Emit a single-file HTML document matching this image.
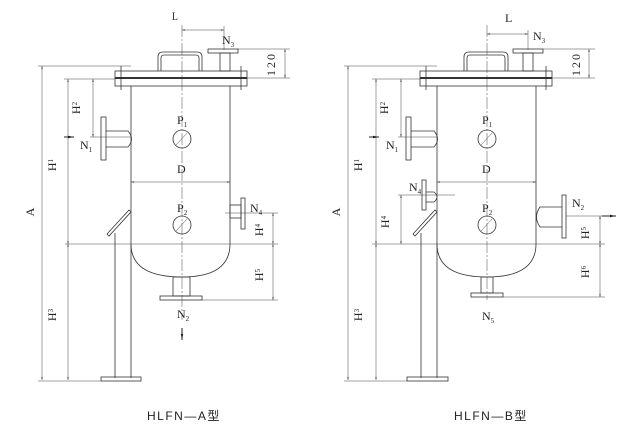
<!DOCTYPE html>
<html><head><meta charset="utf-8"><style>
html,body{margin:0;padding:0;background:#fff;}
svg{display:block}
text{font-family:"Liberation Serif","Noto Serif CJK SC",serif;fill:#222;}
.c{font-family:"Liberation Sans","Noto Sans CJK SC",sans-serif;}
</style></head><body>
<svg width="643" height="442" viewBox="0 0 643 442" xmlns="http://www.w3.org/2000/svg">
<defs>
<marker id="a" viewBox="0 0 10 10" refX="10" refY="5" markerWidth="6" markerHeight="6" orient="auto-start-reverse"><path d="M0,3L10,5L0,7z" fill="#222"/></marker>
</defs>
<g fill="none" stroke="#333" stroke-width="0.8">
<!-- ===== LEFT ===== -->
<!-- flange -->
<rect x="115" y="71" width="132" height="15" fill="#fff"/>
<line x1="115" y1="78" x2="247" y2="78" stroke-width="2"/>
<line x1="121" y1="66" x2="121" y2="90"/><line x1="241" y1="66" x2="241" y2="90"/>
<!-- handle -->
<path d="M158,71 V57 Q158,52 163,52 H197 Q202,52 202,57 V71"/>
<path d="M161,71 V58 Q161,55 164,55 H196 Q199,55 199,58 V71"/>
<!-- N3 -->
<rect x="220" y="53" width="10" height="18"/><rect x="208" y="49" width="30" height="4"/>
<!-- body -->
<line x1="131" y1="86" x2="131" y2="378"/><line x1="230" y1="86" x2="230" y2="244"/>
<path d="M131,244 Q131,277 182,277 Q230,277 230,244"/>
<line x1="115" y1="233" x2="115" y2="378"/>
<rect x="101" y="377" width="40" height="4"/>
<!-- sight glass -->
<path d="M107,234 L129,210 L131,212 L109,236 Z"/>
<!-- N1 -->
<path d="M106,131 H128 Q135,139 128,147 H106"/><rect x="101" y="117" width="5" height="43"/>
<!-- N2 bottom -->
<rect x="173" y="277" width="17" height="19"/><rect x="160" y="296" width="42" height="4"/>
<!-- N4 -->
<rect x="230" y="205" width="11" height="13"/><rect x="241" y="198" width="4" height="31"/>
<!-- gauges -->
<circle cx="182" cy="139" r="9"/><circle cx="182" cy="225" r="9"/>
</g>
<g stroke="#444" stroke-width="0.5" fill="none">
<line x1="182" y1="25" x2="182" y2="320" stroke-dasharray="12 2 2 2"/>
<line x1="182" y1="30" x2="224" y2="30" marker-start="url(#a)" marker-end="url(#a)"/>
<line x1="224" y1="26" x2="224" y2="50"/>
<line x1="238" y1="49" x2="290" y2="49"/><line x1="247" y1="78" x2="290" y2="78"/>
<line x1="285" y1="49" x2="285" y2="78" marker-start="url(#a)" marker-end="url(#a)"/>
<line x1="38" y1="66" x2="131" y2="66"/>
<line x1="42" y1="66" x2="42" y2="380" marker-start="url(#a)" marker-end="url(#a)"/>
<line x1="64" y1="79" x2="115" y2="79"/>
<line x1="68" y1="79" x2="68" y2="244" marker-start="url(#a)" marker-end="url(#a)"/>
<line x1="68" y1="244" x2="68" y2="380" marker-start="url(#a)" marker-end="url(#a)"/>
<line x1="38" y1="381" x2="101" y2="381"/>
<line x1="93" y1="79" x2="93" y2="137" marker-start="url(#a)" marker-end="url(#a)"/>
<line x1="90" y1="137" x2="131" y2="137"/>
<line x1="65" y1="244" x2="278" y2="244"/>
<line x1="131" y1="182" x2="230" y2="182" marker-start="url(#a)" marker-end="url(#a)"/>
<line x1="225" y1="213" x2="278" y2="213"/>
<line x1="273" y1="213" x2="273" y2="244" marker-start="url(#a)" marker-end="url(#a)"/>
<line x1="202" y1="300" x2="278" y2="300"/>
<line x1="273" y1="244" x2="273" y2="300" marker-start="url(#a)" marker-end="url(#a)"/>
<line x1="176" y1="145" x2="187" y2="133"/><line x1="176" y1="231" x2="187" y2="219"/>
</g>
<g stroke="#222" stroke-width="1" fill="#222">
<line x1="64" y1="137" x2="74" y2="137" marker-end="url(#a)"/>
<line x1="182" y1="328" x2="182" y2="340" marker-end="url(#a)"/>
</g>
<!-- ===== RIGHT ===== -->
<g fill="none" stroke="#333" stroke-width="0.8">
<rect x="420" y="71" width="132" height="15" fill="#fff"/>
<line x1="420" y1="78" x2="552" y2="78" stroke-width="2"/>
<line x1="426" y1="66" x2="426" y2="90"/><line x1="546" y1="66" x2="546" y2="90"/>
<path d="M464,71 V57 Q464,52 469,52 H503 Q508,52 508,57 V71"/>
<path d="M467,71 V58 Q467,55 470,55 H502 Q505,55 505,58 V71"/>
<rect x="523" y="53" width="10" height="18"/><rect x="513" y="49" width="30" height="4"/>
<line x1="437" y1="86" x2="437" y2="378"/><line x1="536" y1="86" x2="536" y2="244"/>
<path d="M437,244 Q437,277 487,277 Q536,277 536,244"/>
<line x1="421" y1="233" x2="421" y2="378"/>
<rect x="407" y="377" width="41" height="4"/>
<path d="M413,234 L435,210 L437,212 L415,236 Z"/>
<path d="M411,131 H434 Q441,139 434,147 H411"/><rect x="406" y="117" width="5" height="43"/>
<rect x="481" y="277" width="12" height="16"/><rect x="471" y="293" width="32" height="4"/>
<path d="M426,192 H434 Q440,197 434,202 H426"/><rect x="422" y="180" width="4" height="30"/>
<path d="M562,207 H540 Q533,217 540,227 H562"/><rect x="562" y="195" width="4" height="43"/>
<circle cx="487" cy="139" r="9"/><circle cx="487" cy="225" r="9"/>
</g>
<g stroke="#444" stroke-width="0.5" fill="none">
<line x1="487" y1="25" x2="487" y2="300" stroke-dasharray="12 2 2 2"/>
<line x1="487" y1="34" x2="528" y2="34" marker-start="url(#a)" marker-end="url(#a)"/>
<line x1="528" y1="30" x2="528" y2="50"/>
<line x1="543" y1="49" x2="595" y2="49"/><line x1="552" y1="78" x2="595" y2="78"/>
<line x1="589" y1="49" x2="589" y2="78" marker-start="url(#a)" marker-end="url(#a)"/>
<line x1="344" y1="66" x2="437" y2="66"/>
<line x1="348" y1="66" x2="348" y2="380" marker-start="url(#a)" marker-end="url(#a)"/>
<line x1="372" y1="79" x2="420" y2="79"/>
<line x1="376" y1="79" x2="376" y2="244" marker-start="url(#a)" marker-end="url(#a)"/>
<line x1="376" y1="244" x2="376" y2="380" marker-start="url(#a)" marker-end="url(#a)"/>
<line x1="344" y1="381" x2="407" y2="381"/>
<line x1="401" y1="79" x2="401" y2="137" marker-start="url(#a)" marker-end="url(#a)"/>
<line x1="398" y1="137" x2="437" y2="137"/>
<line x1="372" y1="244" x2="605" y2="244"/>
<line x1="437" y1="182" x2="536" y2="182" marker-start="url(#a)" marker-end="url(#a)"/>
<line x1="398" y1="195" x2="455" y2="195"/>
<line x1="401" y1="195" x2="401" y2="244" marker-start="url(#a)" marker-end="url(#a)"/>
<line x1="566" y1="216" x2="605" y2="216"/>
<line x1="600" y1="216" x2="600" y2="244" marker-start="url(#a)" marker-end="url(#a)"/>
<line x1="503" y1="297" x2="605" y2="297"/>
<line x1="600" y1="244" x2="600" y2="297" marker-start="url(#a)" marker-end="url(#a)"/>
<line x1="481" y1="145" x2="492" y2="133"/><line x1="481" y1="231" x2="492" y2="219"/>
</g>
<g stroke="#222" stroke-width="1" fill="#222">
<line x1="369" y1="137" x2="379" y2="137" marker-end="url(#a)"/>
<line x1="602" y1="216" x2="616" y2="216" marker-end="url(#a)"/>
</g>
<!-- ===== TEXT ===== -->
<g font-size="12">
<text x="172" y="20" transform="translate(172,0) scale(0.8,1) translate(-172,0)">L</text>
<text x="222" y="44">N<tspan font-size="7" dy="3">3</tspan></text>
<text x="275" y="64" transform="rotate(-90 275 64)" text-anchor="middle" letter-spacing="2">120</text>
<text x="34" y="212" transform="rotate(-90 34 212)" text-anchor="middle">A</text>
<text x="56" y="165" transform="rotate(-90 56 165)" text-anchor="middle">H<tspan font-size="7" dy="-3">1</tspan></text>
<text x="80" y="108" transform="rotate(-90 80 108)" text-anchor="middle">H<tspan font-size="7" dy="-3">2</tspan></text>
<text x="56" y="315" transform="rotate(-90 56 315)" text-anchor="middle">H<tspan font-size="7" dy="-3">3</tspan></text>
<text x="80" y="149">N<tspan font-size="7" dy="3">1</tspan></text>
<text x="177" y="124">P<tspan font-size="7" dy="3">1</tspan></text>
<text x="177" y="173">D</text>
<text x="177" y="212">P<tspan font-size="7" dy="3">2</tspan></text>
<text x="250" y="212">N<tspan font-size="7" dy="3">4</tspan></text>
<text x="263" y="230" transform="rotate(-90 263 230)" text-anchor="middle">H<tspan font-size="7" dy="-3">4</tspan></text>
<text x="263" y="275" transform="rotate(-90 263 275)" text-anchor="middle">H<tspan font-size="7" dy="-3">5</tspan></text>
<text x="177" y="318">N<tspan font-size="7" dy="3">2</tspan></text>

<text x="505" y="22">L</text>
<text x="533" y="40">N<tspan font-size="7" dy="3">3</tspan></text>
<text x="580" y="64" transform="rotate(-90 580 64)" text-anchor="middle" letter-spacing="2">120</text>
<text x="340" y="212" transform="rotate(-90 340 212)" text-anchor="middle">A</text>
<text x="362" y="165" transform="rotate(-90 362 165)" text-anchor="middle">H<tspan font-size="7" dy="-3">1</tspan></text>
<text x="388" y="108" transform="rotate(-90 388 108)" text-anchor="middle">H<tspan font-size="7" dy="-3">2</tspan></text>
<text x="362" y="315" transform="rotate(-90 362 315)" text-anchor="middle">H<tspan font-size="7" dy="-3">3</tspan></text>
<text x="386" y="149">N<tspan font-size="7" dy="3">1</tspan></text>
<text x="482" y="124">P<tspan font-size="7" dy="3">1</tspan></text>
<text x="482" y="173">D</text>
<text x="482" y="212">P<tspan font-size="7" dy="3">2</tspan></text>
<text x="409" y="191">N<tspan font-size="7" dy="3">4</tspan></text>
<text x="389" y="222" transform="rotate(-90 389 222)" text-anchor="middle">H<tspan font-size="7" dy="-3">4</tspan></text>
<text x="572" y="207">N<tspan font-size="7" dy="3">2</tspan></text>
<text x="589" y="233" transform="rotate(-90 589 233)" text-anchor="middle">H<tspan font-size="7" dy="-3">5</tspan></text>
<text x="589" y="272" transform="rotate(-90 589 272)" text-anchor="middle">H<tspan font-size="7" dy="-3">6</tspan></text>
<text x="482" y="320">N<tspan font-size="7" dy="3">5</tspan></text>
</g>
<text class="c" x="147" y="420" font-size="12" letter-spacing="1.5">HLFN—A型</text>
<text class="c" x="454" y="420" font-size="12" letter-spacing="1.5">HLFN—B型</text>
</svg>
</body></html>
